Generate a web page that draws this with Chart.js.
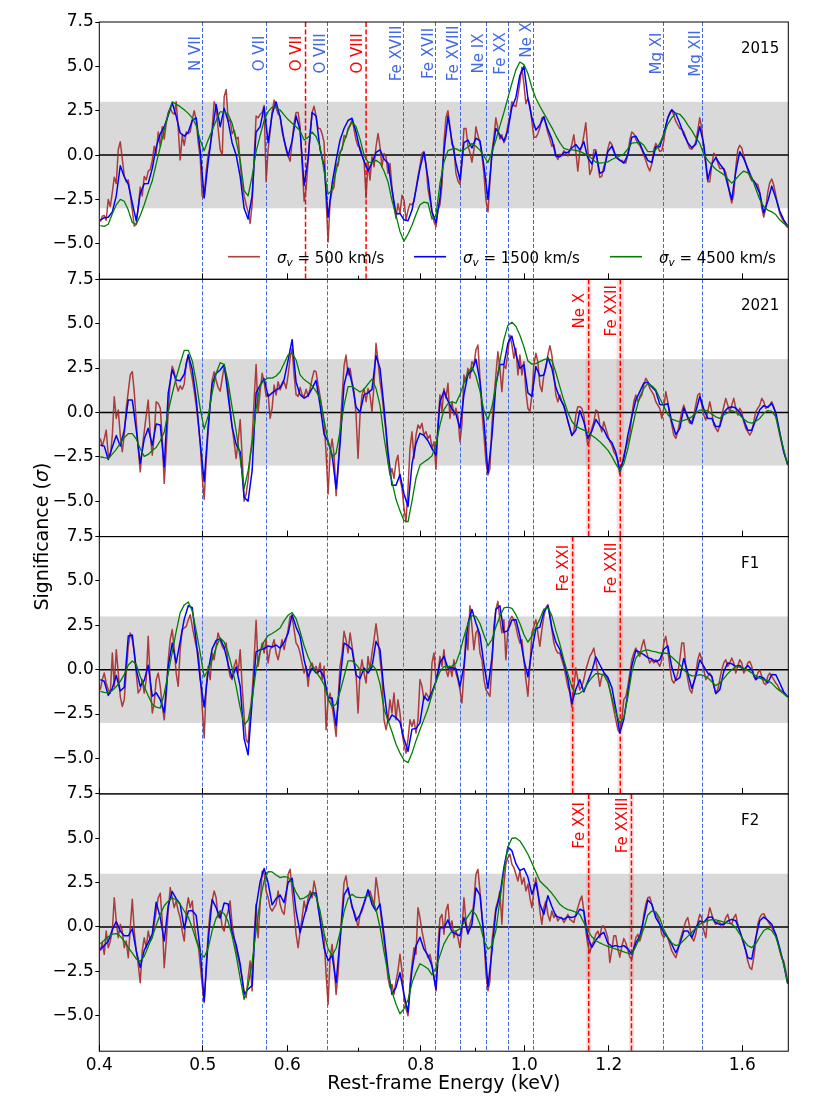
<!DOCTYPE html>
<html><head><meta charset="utf-8">
<script src="https://cdn.jsdelivr.net/npm/chart.js@4.4.1/dist/chart.umd.min.js"></script>
<style>
html,body{margin:0;padding:0;background:#fff;}
#wrap{position:relative;width:830px;height:1107px;overflow:hidden;}
#wrap canvas{position:absolute;left:0;top:0;}
</style></head><body>
<div id="wrap">
<canvas id="c0" width="830" height="1107"></canvas>
<canvas id="c1" width="830" height="1107"></canvas>
<canvas id="c2" width="830" height="1107"></canvas>
<canvas id="c3" width="830" height="1107"></canvas>
</div>
<script>
// ---------- DATA ----------
// Rest-frame energy grid (keV) for the sigma_v = 500 km/s curves; the 1500/4500 curves use every 2nd point.
const ENERGY = [
0.4009,0.4026,0.4043,0.4060,0.4078,0.4096,0.4114,0.4131,0.4149,0.4167,
0.4185,0.4203,0.4221,0.4239,0.4258,0.4276,0.4295,0.4313,0.4332,0.4350,
0.4369,0.4388,0.4407,0.4426,0.4445,0.4465,0.4484,0.4503,0.4522,0.4542,
0.4562,0.4582,0.4601,0.4621,0.4641,0.4661,0.4681,0.4701,0.4721,0.4742,
0.4762,0.4783,0.4804,0.4825,0.4846,0.4866,0.4888,0.4908,0.4929,0.4951,
0.4972,0.4993,0.5015,0.5037,0.5058,0.5080,0.5102,0.5124,0.5146,0.5168,
0.5191,0.5214,0.5236,0.5259,0.5281,0.5303,0.5326,0.5350,0.5373,0.5396,
0.5420,0.5443,0.5466,0.5490,0.5513,0.5537,0.5561,0.5585,0.5609,0.5633,
0.5658,0.5683,0.5707,0.5732,0.5756,0.5781,0.5806,0.5831,0.5856,0.5882,
0.5907,0.5932,0.5958,0.5984,0.6010,0.6036,0.6062,0.6088,0.6114,0.6141,
0.6167,0.6194,0.6221,0.6248,0.6275,0.6302,0.6329,0.6356,0.6383,0.6411,
0.6439,0.6467,0.6495,0.6523,0.6551,0.6579,0.6608,0.6636,0.6665,0.6694,
0.6722,0.6752,0.6780,0.6809,0.6839,0.6869,0.6898,0.6928,0.6958,0.6988,
0.7018,0.7048,0.7079,0.7110,0.7140,0.7170,0.7201,0.7233,0.7264,0.7296,
0.7327,0.7358,0.7390,0.7422,0.7454,0.7486,0.7518,0.7551,0.7584,0.7616,
0.7649,0.7683,0.7716,0.7749,0.7783,0.7816,0.7850,0.7884,0.7918,0.7952,
0.7986,0.8021,0.8055,0.8090,0.8125,0.8161,0.8196,0.8231,0.8267,0.8302,
0.8338,0.8374,0.8410,0.8446,0.8483,0.8519,0.8556,0.8593,0.8630,0.8667,
0.8705,0.8742,0.8780,0.8818,0.8856,0.8894,0.8933,0.8971,0.9010,0.9049,
0.9089,0.9128,0.9167,0.9207,0.9247,0.9286,0.9326,0.9366,0.9406,0.9447,
0.9488,0.9529,0.9570,0.9611,0.9653,0.9695,0.9737,0.9779,0.9821,0.9864,
0.9906,0.9949,0.9992,1.0035,1.0079,1.0122,1.0166,1.0209,1.0253,1.0297,
1.0342,1.0387,1.0432,1.0477,1.0522,1.0568,1.0613,1.0659,1.0705,1.0751,
1.0797,1.0844,1.0891,1.0938,1.0985,1.1033,1.1080,1.1128,1.1176,1.1224,
1.1272,1.1321,1.1370,1.1419,1.1469,1.1518,1.1568,1.1618,1.1668,1.1719,
1.1769,1.1820,1.1871,1.1922,1.1974,1.2026,1.2078,1.2130,1.2182,1.2235,
1.2287,1.2341,1.2394,1.2448,1.2501,1.2555,1.2609,1.2664,1.2719,1.2774,
1.2829,1.2884,1.2940,1.2996,1.3052,1.3108,1.3165,1.3222,1.3279,1.3337,
1.3394,1.3452,1.3510,1.3568,1.3627,1.3685,1.3745,1.3804,1.3864,1.3924,
1.3984,1.4045,1.4105,1.4166,1.4227,1.4289,1.4351,1.4412,1.4474,1.4537,
1.4599,1.4663,1.4726,1.4790,1.4854,1.4918,1.4983,1.5047,1.5112,1.5177,
1.5243,1.5309,1.5375,1.5441,1.5508,1.5575,1.5642,1.5710,1.5778,1.5846,
1.5914,1.5983,1.6052,1.6121,1.6191,1.6261,1.6331,1.6402,1.6473,1.6544,
1.6616,1.6688,1.6759,1.6831,1.6904,1.6978,1.7051,1.7124,1.7198,1.7272,
1.7347,1.7422,1.7497,1.7573,1.7649];

const PANELS = ['2015','2021','F1','F2'];
const SIGMA_V = ['500','1500','4500'];

const BROWN_2015 = [
-3.75,-3.45,-3.4,-3.67,-2.5,-2.9,-2.1,-1.25,-1.6,0.3,
0.75,-0.2,-1.15,-1.5,-1.4,-2.2,-3.1,-4.0,-3.9,-3.0,
-1.8,-2.3,-1.2,-1.4,-0.9,-0.8,-0.3,0.5,0.1,1.3,
0.47,1.6,0.9,1.8,2.4,2.65,2.4,2.3,3.0,1.5,
-0.28,1.1,0.55,1.3,1.2,1.3,2.0,2.5,2.0,0.7,
-0.1,-2.3,-2.4,-0.9,0.0,0.5,1.5,3.0,2.7,1.5,
0.3,0.0,3.29,3.7,1.9,2.0,1.2,1.4,0.9,1.0,
-0.5,-1.6,-2.3,-2.8,-3.2,-3.85,-2.8,-0.2,2.2,2.1,
2.3,2.4,2.8,-1.5,0.3,1.3,2.4,3.1,2.7,2.3,
2.2,1.3,0.85,0.28,-0.05,-0.35,0.8,1.8,2.4,2.4,
1.6,-0.5,-2.6,-1.9,-0.3,1.3,2.4,2.75,2.2,1.5,
1.5,1.2,0.7,-2.5,-4.9,-2.6,-2.0,-1.8,-0.5,-0.6,
0.2,0.3,1.1,1.0,1.5,1.7,2.0,1.45,0.85,0.5,
0.45,0.0,-0.3,-2.4,-0.4,-1.41,-0.09,-0.66,0.47,1.22,
0.47,-0.66,0.09,-0.09,-1.03,-0.47,-1.79,-2.91,-3.57,-2.73,
-3.29,-2.26,-2.54,-3.67,-3.10,-2.75,-2.8,-2.6,
-1.9,-1.2,-0.6,0.1,0.2,-0.5,-1.9,-2.54,-3.2,-3.75,
-4.04,-3.1,-2.8,-1.7,0.7,2.1,2.5,1.6,0.6,0.47,
-1.03,-1.45,-1.65,-0.5,1.5,1.5,0.55,0.15,-0.4,0.3,
1.6,1.1,0.7,0.0,-1.05,-2.54,-3.2,-1.5,0.2,1.0,
2.1,1.5,0.9,1.15,0.7,0.95,1.7,2.16,3.0,2.8,
2.73,3.35,4.1,4.95,4.0,2.9,3.2,2.8,1.9,1.0,
1.0,1.2,1.55,2.1,2.16,1.7,1.25,0.9,0.5,0.6,
0.0,-0.25,0.05,-0.05,0.25,0.1,-0.05,0.25,0.6,1.15,
0.2,-0.9,0.2,0.45,1.1,1.82,0.3,-1.1,-0.8,0.3,
0.3,-0.55,-1.25,-1.2,-0.65,-0.3,0.35,0.75,0.6,0.3,
-0.1,-0.2,-0.3,-0.3,-0.4,-0.45,0.1,0.85,1.3,1.2,
0.9,0.66,0.55,0.3,0.0,-0.3,-0.65,-0.9,-0.5,0.3,
0.66,0.45,0.2,0.25,0.8,1.6,2.1,2.4,2.54,2.25,
1.9,1.7,1.5,1.45,1.3,1.0,0.65,0.38,0.33,0.5,
0.75,1.4,2.1,1.5,0.4,-0.55,-1.5,-1.5,-0.55,0.1,
0.0,-0.45,-0.75,-0.75,-0.75,-1.0,-1.5,-2.2,-2.7,-2.2,
-0.7,0.3,0.55,0.4,-0.05,-0.45,-0.85,-1.2,-1.45,-1.45,
-1.6,-1.65,-2.1,-3.0,-3.5,-3.0,-2.1,-1.55,-1.35,-1.7,
-2.25,-2.8,-3.3,-3.55,-3.75,-3.95,-4.1];

const BLUE_2015 = [
-3.67,-3.53,-3.5,-3.2,-2.3,-0.6,-1.22,-1.65,-2.7,-3.7,
-2.16,-1.62,-1.6,-0.75,0.45,1.2,1.6,2.25,2.95,2.2,
1.25,1.07,1.3,1.95,2.1,0.28,-2.4,-0.4,1.3,2.85,
1.6,2.63,1.9,0.7,0.0,-1.22,-3.0,-3.6,-2.3,1.3,
1.6,2.7,0.7,2.3,3.0,2.15,0.85,-0.05,0.8,2.2,
1.4,-1.7,-0.2,2.4,2.2,0.3,-0.6,-3.5,-1.6,-0.3,
0.85,1.5,1.95,2.08,1.3,0.28,-0.35,-0.9,-0.43,0.15,
0.3,-0.22,-0.45,-1.95,-3.3,-3.29,-3.65,-3.7,-3.1,-1.95,
-0.75,0.15,-1.3,-3.2,-3.8,-2.4,0.2,2.2,0.8,-0.45,
-1.4,0.7,0.85,0.4,0.95,0.8,-0.6,-2.5,0.0,1.5,
1.13,0.8,1.4,2.7,3.25,4.5,5.0,3.2,2.1,1.41,
1.7,2.15,1.45,0.9,-0.05,-0.09,0.15,0.15,0.4,0.6,
0.3,0.75,-0.15,-0.5,0.2,-1.03,-0.9,0.2,0.5,-0.1,
-0.28,-0.45,0.0,1.0,1.07,0.66,0.12,-0.3,-0.43,0.47,
0.47,1.2,2.1,2.56,2.33,1.79,1.15,0.7,0.42,0.6,
1.6,0.6,-1.4,-0.5,-0.15,-0.5,-0.8,-1.7,-2.5,-0.95,
0.19,-0.2,-0.75,-1.3,-1.65,-2.16,-3.25,-2.6,-1.75,-2.4,
-3.15,-3.65,-4.0];

const GREEN_2015 = [
-3.98,-4.02,-3.9,-3.3,-2.8,-2.5,-2.6,-3.1,-3.8,-3.9,
-3.4,-2.8,-2.1,-1.45,-0.5,0.47,1.4,2.3,3.0,2.87,
2.73,2.55,2.35,2.1,1.67,0.85,0.25,0.85,1.4,1.95,
2.44,2.44,2.3,1.8,0.8,-0.28,-2.0,-2.3,-1.2,0.2,
1.1,1.95,2.45,2.7,2.67,2.54,2.27,2.0,1.8,1.6,
1.37,0.85,1.0,1.3,1.05,0.47,-0.9,-2.2,-1.95,-0.9,
0.09,0.75,1.4,1.86,1.6,0.9,0.0,-0.4,-0.42,-0.3,
-0.45,-0.9,-1.5,-2.55,-3.4,-4.3,-4.85,-4.45,-3.95,-3.35,
-2.8,-2.65,-2.7,-3.6,-3.4,-1.6,-0.4,0.25,0.33,0.36,
0.24,0.3,0.46,0.65,0.5,0.28,-0.05,-0.42,0.15,0.85,
1.65,2.4,3.22,4.05,4.8,5.25,5.1,4.6,3.8,3.2,
2.75,2.35,1.95,1.55,1.1,0.7,0.38,0.31,0.29,0.27,
0.21,0.1,0.0,-0.2,-0.4,-0.45,-0.42,-0.38,-0.25,-0.15,
-0.05,0.06,0.35,0.67,0.7,0.74,0.55,0.2,0.19,0.3,
0.68,1.15,1.75,2.1,2.37,2.3,2.05,1.7,1.38,1.0,
0.66,0.05,-0.3,-0.55,-0.8,-0.95,-1.1,-1.35,-1.58,-1.35,
-1.1,-0.9,-1.0,-1.25,-1.9,-2.5,-2.9,-3.1,-3.2,-3.35,
-3.65,-3.85,-4.0];

const BROWN_2021 = [
-1.47,-1.9,-1.5,-1.0,-2.41,-2.5,-1.28,0.88,-0.34,0.13,
-1.28,-2.22,-1.28,0.23,1.17,2.11,2.29,1.17,-0.53,-2.03,
-3.35,-2.03,-1.09,-0.15,0.70,-1.28,-2.41,-1.28,0.60,0.51,
0.23,-1.47,-4.00,-2.03,0.04,1.73,
2.6,2.3,1.6,1.2,1.5,1.3,1.6,2.8,3.23,2.5,
1.9,1.2,0.4,-0.6,-1.7,-3.6,-4.9,-2.7,-1.1,0.5,
1.8,2.29,1.8,1.4,1.2,1.9,2.6,2.0,1.3,0.2,
-0.8,-1.7,-2.6,-1.6,-0.4,-2.5,-5.0,-4.6,-3.8,-2.5,
-1.5,0.7,2.7,0.0,1.17,2.2,1.7,0.9,1.05,-0.34,
0.23,1.54,0.98,1.73,1.26,1.54,1.73,1.35,2.11,3.05,
3.6,2.1,1.0,0.9,1.4,1.0,0.9,1.3,0.9,1.35,
1.9,2.35,2.3,1.55,0.9,0.15,-0.6,-2.3,-4.6,-2.3,
-1.5,-2.4,-4.7,-3.3,-1.1,0.9,2.6,3.23,2.11,2.48,
1.73,1.17,-0.15,-2.59,-0.15,0.98,1.35,0.60,1.35,0.98,
0.04,1.54,3.89,2.86,1.73,0.98,-0.15,-1.09,-2.78,-3.53,
-3.16,-3.72,-2.78,-2.41,-3.72,-4.29,-5.41,-6.17,-4.29,-2.03,
-1.09,-2.59,-1.28,-0.71,-0.90,-0.62,-1.28,-1.09,-1.47,-1.28,
-2.03,-1.65,-3.2,-0.7,1.0,
0.04,1.35,0.79,1.64,-0.34,0.60,-0.15,0.23,-0.24,-1.65,
-0.71,2.11,1.73,2.48,1.92,2.86,2.67,3.52,3.80,1.92,
0.04,-1.28,-2.78,-3.53,-3.16,-0.71,0.79,2.11,3.42,2.48,
1.17,2.67,2.48,3.42,4.36,3.80,3.05,3.61,2.11,3.23,
2.11,2.86,1.17,0.23,0.04,0.98,2.67,3.33,2.86,1.54,
1.17,2.11,2.48,3.23,3.76,3.23,2.11,0.98,0.60,0.98,
0.60,0.41,0.04,-0.53,-0.90,-1.28,-1.09,-0.15,0.32,0.32,
0.23,-0.15,-1.09,-1.84,-1.47,-0.90,-0.53,0.13,0.04,-0.71,
-1.09,-0.53,-0.90,-1.28,-1.65,-1.84,-2.22,-2.41,-2.69,-3.53,
-2.97,-2.41,-2.03,-1.65,-1.28,-0.15,0.60,0.98,0.60,0.79,
0.98,1.54,1.92,1.73,1.35,1.17,0.98,0.60,0.41,0.23,
-0.34,0.23,1.17,0.60,-0.15,-0.71,-1.28,-1.47,-1.09,-0.53,
0.04,0.41,0.04,-0.34,-0.62,-0.53,-0.15,0.41,0.98,1.07,
0.41,-0.15,-0.43,0.04,0.60,0.04,-0.71,-0.90,-1.09,-0.71,
-0.15,0.32,0.79,0.41,0.04,0.41,0.79,0.23,-0.15,0.23,
0.04,-0.53,-0.90,-1.09,-1.28,-1.09,-0.53,0.04,0.23,0.41,
0.79,0.60,0.23,0.32,0.41,0.60,0.32,-0.15,-0.71,-1.28,
-1.75,-2.22,-2.59,-2.93];

const BLUE_2021 = [
-1.84,-1.9,-2.65,-1.95,-1.3,-1.9,-1.0,0.7,0.7,-1.0,
-2.88,-1.5,-0.9,-1.85,-0.65,-0.71,-3.06,1.1,2.4,1.82,
1.78,2.15,3.25,2.4,0.8,-1.7,-3.9,-0.8,1.6,2.2,
2.39,2.7,0.9,-0.8,-1.8,-2.22,-4.8,-5.0,-3.3,1.1,
1.54,1.9,0.9,1.1,1.26,1.4,1.85,2.95,4.1,1.7,
1.0,0.8,0.95,1.35,1.8,0.4,-1.25,-1.65,-2.4,-4.3,
-1.8,1.54,2.5,1.65,0.3,0.0,1.0,1.1,1.3,3.2,
2.48,0.3,-2.2,-4.1,-4.1,-3.5,-4.6,-5.3,-2.9,-1.75,
-1.18,-1.3,-1.6,-2.05,-2.41,0.6,1.2,0.65,0.2,-0.1,
-0.9,1.0,2.15,2.35,3.0,1.73,-0.5,-3.4,-1.4,1.54,
2.7,2.7,3.9,4.3,3.3,2.48,2.7,1.1,0.9,2.58,
2.05,2.11,3.1,2.48,1.4,0.8,0.35,-0.45,-1.3,-1.0,
0.1,-0.53,-1.45,-1.05,-0.4,-0.75,-0.97,-1.45,-1.7,-2.25,
-3.3,-2.6,-1.3,-0.25,0.7,1.17,1.65,1.7,1.43,1.2,
0.45,0.41,0.5,-0.53,-1.25,-0.9,0.25,-0.25,-0.65,0.05,
0.88,0.2,-0.34,-0.34,-0.8,-0.8,0.0,0.25,0.32,0.25,
0.0,-0.43,-1.0,-1.0,-0.43,0.15,0.38,0.28,0.51,0.0,
-1.1,-2.22,-2.95];

const GREEN_2021 = [
-2.5,-2.55,-2.59,-2.35,-2.08,-1.75,-1.42,-1.2,-1.2,-1.5,
-2.05,-2.48,-2.37,-2.14,-1.98,-1.6,-1.1,0.05,1.05,1.95,
2.75,3.5,3.5,2.9,1.75,0.23,-0.94,-0.2,1.1,2.2,
2.8,2.7,1.7,0.3,-1.05,-2.6,-4.29,-3.3,-1.8,0.2,
1.54,1.8,1.95,1.93,2.05,2.29,2.75,3.25,3.36,2.95,
2.11,1.85,1.68,1.5,1.2,0.79,-0.45,-1.6,-2.55,-2.3,
-1.05,0.4,1.45,1.45,1.3,1.15,1.3,1.6,1.87,1.35,
0.4,-1.4,-2.8,-3.9,-4.9,-5.55,-6.1,-6.17,-5.0,-3.7,
-2.97,-2.8,-2.65,-2.45,-1.8,-0.7,0.15,0.5,0.6,0.52,
1.0,1.65,2.25,2.55,2.05,1.2,0.1,-0.4,0.3,1.5,
2.9,4.1,4.9,5.08,4.85,4.35,3.7,2.9,2.72,2.75,
2.86,2.97,3.03,2.93,2.25,1.45,0.68,0.0,-0.5,-0.78,
-0.9,-1.0,-1.12,-1.3,-1.46,-1.65,-1.88,-2.13,-2.48,-2.9,
-3.25,-2.9,-2.05,-1.0,0.05,0.9,1.35,1.62,1.5,1.28,
0.8,0.35,-0.12,-0.38,-0.47,-0.53,-0.45,-0.38,-0.25,-0.05,
0.13,0.13,0.08,-0.1,-0.25,-0.34,-0.15,-0.02,0.1,0.02,
-0.15,-0.38,-0.55,-0.6,-0.5,-0.34,-0.05,0.1,0.06,-0.25,
-1.2,-2.1,-2.97];

const BROWN_F1 = [
-1.13,-0.56,-0.19,-0.75,-1.13,-1.32,0.94,-0.94,1.13,-0.19,
-1.50,-2.07,
-1.69,-0.19,1.32,2.07,1.69,0.94,-0.19,-1.32,-1.13,-0.56,
-1.32,-0.56,1.88,-0.75,-2.44,-1.88,-0.56,-0.19,-0.94,-2.07,
-2.82,-1.50,0.56,1.69,2.26,1.2,-0.19,-0.94,1.13,2.26,
2.35,2.44,2.82,3.10,2.44,1.88,1.32,0.94,
-0.19,-2.07,-3.85,-0.94,0.19,-0.56,0.94,0.56,1.32,2.07,
1.69,1.32,1.13,1.50,0.19,-0.38,-0.56,0.19,0.56,-0.19,
1.13,-0.94,-2.63,-3.95,-4.14,-2.44,-1.32,0.56,2.78,0.19,
0.94,1.50,0.94,1.69,0.38,1.13,1.32,1.69,0.94,0.56,
1.13,1.69,1.13,1.69,2.26,3.01,3.01,2.26,1.50,1.32,
0.94,0.38,-0.19,0.19,-0.94,0.19,0.38,0.00,0.19,-0.19,
0.38,-0.56,0.19,-3.38,-1.7,-1.32,-2.07,-2.82,-3.76,-1.69,
0.19,0.94,2.16,1.69,0.94,2.07,1.32,0.56,-0.19,-2.44,
-0.19,0.56,-0.19,-0.75,0.75,0.00,0.94,1.69,2.59,1.69,
0.56,-0.38,-2.82,-3.38,-2.82,-1.69,-2.44,-1.32,-2.82,-1.69,
-2.44,-3.57,-4.2,-4.7,-3.9,-2.82,-3.20,-2.82,-3.57,-2.82,
-0.56,-0.94,-1.69,-1.32,-1.50,-1.69,0.38,0.94,-0.56,-0.19,
0.75,
0.19,1.13,0.00,-0.38,0.19,-0.38,0.56,-0.19,-0.56,-1.13,
-1.88,-0.19,2.07,1.13,3.6,2.44,1.13,2.07,2.26,0.94,
0.56,-0.56,-1.13,-1.32,-1.50,0.19,2.44,3.38,3.85,2.82,
2.07,2.82,0.56,2.26,2.82,3.01,2.82,2.44,1.88,1.50,
1.69,0.56,-0.56,-1.50,0.19,2.07,2.44,2.82,2.07,1.32,
2.26,3.01,3.48,3.67,3.20,2.26,1.50,1.13,0.94,0.94,
0.56,0.19,-0.38,-0.94,-1.32,-2.1,-1.0,0.09,-0.56,-1.13,
-0.94,-0.56,0.00,0.38,0.75,0.94,1.22,0.56,-0.19,-0.94,
-0.38,-0.19,-0.38,-0.56,-1.13,-1.69,-2.26,-2.82,-3.38,-3.57,
-2.82,-1.69,-1.50,-0.94,-0.19,0.56,0.94,1.22,0.94,0.75,
1.32,1.69,1.13,0.75,0.38,0.56,0.38,0.56,0.38,0.19,
0.56,1.50,1.88,1.13,0.19,-0.56,-0.75,-0.56,-0.19,0.56,
1.50,1.50,0.19,-0.56,-1.13,-1.32,-0.75,-0.19,0.56,0.94,
0.56,0.00,-0.56,-0.38,-0.19,-0.38,-0.94,-1.32,-1.13,-0.56,
0.00,0.38,0.56,0.19,0.38,0.66,0.38,-0.19,0.19,0.56,
0.38,-0.19,0.00,0.38,0.47,0.19,-0.38,-0.56,-0.19,0.00,
-0.38,-0.75,-0.85,-0.38,-0.19,-0.38,-0.56,-0.75,-0.9,-1.13,
-1.2,-1.32,-1.45,-1.54];

const BLUE_F1 = [
-0.56,-0.65,-1.45,-1.05,-0.33,-1.2,-1.0,1.9,1.95,0.0,
-0.94,-0.6,0.25,-1.5,-1.3,-1.69,-2.4,0.2,1.5,0.38,
1.6,2.85,3.6,3.5,1.6,-0.56,-2.1,-0.1,1.17,1.65,
1.75,1.25,0.3,-0.45,0.15,-0.94,-3.9,-4.8,-1.8,1.0,
1.13,1.18,1.33,1.28,1.39,1.22,1.55,2.05,3.1,2.4,
1.88,0.55,-0.4,0.1,-0.19,-0.05,-0.4,-1.6,-1.6,-3.16,
-0.6,1.5,1.36,1.13,-0.3,-0.5,0.1,-0.19,0.15,1.6,
1.13,-1.2,-2.95,-2.55,-2.7,-2.95,-3.9,-4.6,-3.35,-3.32,
-3.0,-1.5,-1.75,-1.25,-0.65,0.4,0.75,0.1,0.11,0.05,
-0.94,0.19,2.6,3.4,2.63,1.95,0.3,-1.05,0.65,3.4,
3.6,2.1,2.2,2.8,2.82,1.9,0.56,-0.4,1.1,2.3,
2.4,3.25,3.6,2.35,1.55,1.15,0.4,-0.5,-1.9,-1.1,
-0.56,-1.25,-0.65,-0.1,0.72,0.28,-0.15,-0.43,-1.0,-2.2,
-3.55,-2.8,-1.32,0.2,1.09,0.98,0.85,0.68,0.6,0.45,
0.56,1.15,1.35,0.15,-0.6,-0.45,0.63,-0.19,-1.05,-0.38,
0.55,0.19,-0.19,-0.38,-1.35,-1.13,-0.1,0.38,0.33,0.19,
0.23,0.0,0.24,0.0,-0.56,-0.38,-0.48,-0.75,-0.27,-0.28,
-0.75,-1.25,-1.54];

const GREEN_F1 = [
-1.22,-1.28,-1.3,-1.17,-0.95,-0.66,-0.28,0.26,0.49,0.3,
-0.38,-0.95,-1.47,-1.95,-2.11,-2.16,-1.35,-0.2,0.98,2.15,
3.2,3.65,3.82,3.3,2.2,0.95,-0.41,0.0,0.56,1.26,
1.79,1.56,0.95,0.1,-0.95,-2.15,-3.12,-2.85,-1.7,0.0,
1.0,1.6,1.92,2.04,2.18,2.35,2.75,3.07,3.22,2.88,
2.15,1.35,0.72,0.2,-0.13,-0.45,-0.85,-1.63,-2.1,-1.95,
-1.25,-0.4,0.5,0.5,0.3,0.0,-0.06,0.0,0.3,0.0,
-0.8,-2.2,-2.85,-3.5,-4.2,-4.7,-5.1,-5.24,-4.7,-4.0,
-3.38,-2.8,-2.2,-1.4,-0.68,-0.1,0.17,0.18,0.2,0.36,
1.0,1.85,2.6,3.05,3.0,2.6,1.95,1.35,1.7,2.4,
3.0,3.48,3.53,3.45,3.1,2.6,1.98,1.55,1.9,2.4,
2.85,3.42,3.5,3.05,2.2,1.45,0.55,-0.22,-0.97,-1.38,
-1.33,-1.15,-0.75,-0.45,-0.22,-0.23,-0.3,-0.72,-1.55,-2.4,
-3.0,-2.7,-1.55,-0.15,0.65,0.95,1.08,1.12,1.05,1.0,
0.94,0.94,0.9,0.72,0.5,0.28,0.0,-0.23,-0.35,-0.34,
-0.28,-0.34,-0.45,-0.68,-0.9,-0.75,-0.5,-0.22,0.0,0.17,
0.15,0.07,-0.04,-0.18,-0.35,-0.48,-0.57,-0.63,-0.76,-1.0,
-1.18,-1.36,-1.54];

const BROWN_F2 = [
-1.35,-0.88,-1.54,-0.23,-1.17,-0.79,-0.23,1.65,0.34,-0.60,
0.15,-0.23,-1.17,-0.79,-1.73,-0.04,1.56,-0.23,-1.35,-2.11,
-3.14,-1.35,-0.60,-1.17,-0.23,-0.79,-0.60,0.15,0.90,1.65,
1.9,0.3,-2.3,-0.8,0.9,2.22,1.65,1.09,1.47,0.90,
0.53,-0.23,-0.79,0.90,1.65,1.09,1.47,0.15,-0.60,-0.98,
-2.11,-3.23,-4.27,-2.11,-0.41,0.90,1.47,2.03,1.65,0.53,
0.90,-0.04,-0.23,0.53,0.90,1.47,0.15,-0.60,-1.35,-1.73,
-2.29,-2.86,-3.61,-3.98,-2.86,-1.92,-3.61,-0.60,1.3,-0.6,
1.28,3.16,3.0,2.03,1.65,1.09,0.90,1.09,1.28,2.03,
1.28,0.90,0.71,1.65,2.97,3.25,2.03,0.90,-0.41,-1.17,
-0.23,0.53,1.47,0.90,1.65,2.03,1.65,2.59,2.03,1.28,
0.53,-0.23,-0.60,-2.67,-4.36,-1.73,-0.98,-2.11,-3.8,-2.6,
-0.8,1.0,2.5,2.88,2.03,1.65,1.09,0.90,0.53,-0.04,
0.71,0.90,1.28,1.65,1.84,2.03,1.65,1.09,2.78,2.03,
1.09,0.15,-0.79,-1.73,-2.86,-3.42,-3.23,-3.80,-3.04,-2.48,
-1.54,-2.48,-4.0,-4.6,-5.0,-3.2,-2.11,-1.17,-1.54,1.09,
0.53,-0.23,-0.79,-1.35,-1.73,-1.54,-2.11,-2.86,-3.61,-1.0,
0.5,
0.71,-0.41,0.90,1.28,-0.04,0.34,-0.60,-0.23,-0.60,-1.17,
-0.23,1.65,0.34,-0.41,0.15,0.53,1.47,2.97,3.25,2.03,
0.71,-0.60,-2.6,-3.6,-3.05,-0.79,0.15,1.09,1.47,2.03,
0.15,2.41,3.53,3.91,4.10,3.53,3.34,2.97,2.59,3.16,
2.41,2.78,2.03,2.41,1.65,1.09,2.03,2.78,2.03,0.90,
0.15,1.09,1.47,0.71,0.34,0.90,0.53,0.71,0.34,0.53,
0.53,0.25,0.43,0.71,0.43,0.34,0.25,0.71,1.09,1.47,
1.75,0.90,-0.23,-0.98,-1.45,-1.0,-0.79,-0.41,-0.23,-0.60,
0.04,0.06,-0.23,-0.6,-2.0,-1.3,-0.5,-0.5,-1.2,-1.7,
-1.1,-0.65,-0.9,-1.3,-1.7,-1.82,-1.17,-0.60,-0.41,-0.79,
-0.41,0.71,1.28,1.65,1.69,1.28,0.90,0.71,0.53,0.15,
-0.41,-0.60,-0.41,-0.60,-0.98,-1.35,-1.54,-1.73,-1.35,-0.79,
-0.41,-0.04,0.34,0.53,-0.04,-0.60,-0.79,-0.41,0.25,0.71,
0.53,-0.23,-0.60,0.53,1.09,0.71,0.34,0.15,0.34,0.25,
-0.04,0.15,0.53,0.71,0.25,0.15,0.53,0.71,0.15,-0.23,
-0.60,-0.98,-1.35,-1.92,-2.29,-2.39,-1.73,-0.79,0.15,0.53,
0.71,0.75,0.53,0.34,0.15,-0.04,-0.23,-0.41,-0.79,-1.35,
-1.73,-1.92,-2.48,-3.18];

const BLUE_F2 = [
-1.26,-1.05,-0.8,-0.15,0.3,-0.23,-0.5,-0.5,-0.1,-1.35,
-2.29,-1.3,-0.88,-0.4,1.4,0.53,-0.79,1.2,2.0,1.6,
1.28,-0.1,0.9,0.93,0.65,-1.3,-4.17,-0.8,1.55,1.09,
0.5,1.35,1.3,-0.3,-1.0,-2.1,-3.8,-3.5,-3.3,1.1,
2.55,3.3,2.5,1.25,1.6,1.8,1.37,2.5,2.75,0.9,
-0.32,0.6,1.38,1.93,1.9,0.34,-1.2,-1.9,-1.6,-3.14,
-0.7,1.8,2.2,1.2,0.35,0.7,1.37,2.1,1.28,0.9,
1.3,-0.41,-2.4,-3.8,-3.4,-2.58,-3.8,-4.8,-2.4,-1.05,
-0.58,-1.25,-1.6,-2.2,-3.52,-0.04,-0.05,0.4,-0.28,-0.39,
-0.5,0.53,-0.35,0.15,2.2,1.8,-0.6,-3.35,-1.4,0.9,
1.8,3.35,4.5,4.3,3.57,3.18,3.3,2.8,1.85,2.5,
1.3,0.71,1.76,1.15,0.62,0.53,0.43,0.58,0.53,0.62,
1.0,0.9,-0.6,-1.15,-0.75,-0.46,-0.3,-0.9,-1.1,-1.05,
-1.12,-1.05,-1.22,-1.55,-0.9,-0.5,0.45,1.52,1.28,0.52,
0.15,-0.32,-0.6,-0.98,-1.45,-0.98,-0.23,-0.22,-0.6,-0.05,
0.34,0.25,0.53,0.57,0.24,0.15,0.15,0.34,0.43,0.35,
-0.23,-0.9,-1.73,-1.8,-0.6,0.35,0.56,0.38,0.15,-0.42,
-1.2,-2.11,-3.2];

const GREEN_F2 = [
-0.94,-0.75,-0.55,-0.4,-0.37,-0.52,-0.8,-1.15,-1.47,-1.8,
-1.93,-1.65,-1.1,-0.55,0.1,0.7,1.2,1.45,1.65,1.52,
1.28,0.9,0.55,-0.05,-0.75,-1.45,-1.7,-1.2,-0.2,0.5,
0.9,0.75,0.3,-0.5,-1.6,-2.9,-4.08,-3.3,-2.0,-0.2,
1.5,2.6,3.12,3.1,2.93,2.78,2.84,2.8,2.5,1.95,
1.57,1.63,1.78,1.93,1.7,0.9,-0.35,-1.25,-1.6,-1.2,
-0.3,0.85,1.6,1.85,1.68,1.65,1.67,1.78,1.6,1.0,
-0.04,-1.4,-2.6,-3.65,-4.35,-4.89,-4.6,-4.1,-3.15,-2.55,
-2.07,-2.2,-2.35,-2.7,-2.3,-1.6,-0.95,-0.55,-0.23,-0.23,
-0.1,0.25,0.6,0.95,0.7,0.15,-0.75,-1.25,-1.05,-0.2,
1.5,3.15,4.5,5.0,5.02,4.85,4.5,4.1,3.6,3.1,
2.59,2.37,2.15,1.9,1.6,1.28,1.1,0.98,0.92,0.83,
0.71,0.25,-0.2,-0.55,-0.76,-0.9,-1.0,-1.09,-1.17,-1.25,
-1.32,-1.4,-1.48,-1.52,-1.1,-0.6,-0.1,0.68,0.9,0.85,
0.5,-0.15,-0.57,-0.9,-1.05,-0.98,-0.75,-0.53,-0.3,-0.08,
0.15,0.27,0.36,0.42,0.4,0.34,0.28,0.22,0.17,-0.05,
-0.41,-0.75,-1.05,-1.16,-0.95,-0.55,-0.2,-0.08,-0.2,-0.55,
-1.3,-2.1,-3.2];

// Ion line energies (keV) marked in every panel
const ION_ENERGY = [0.500,0.574,0.654,0.771,0.826,0.872,0.921,0.966,1.021,1.350,1.470];
const ION_LABEL  = ['N VII','O VII','O VIII','Fe XVIII','Fe XVII','Fe XVIII','Ne IX','Fe XX','Ne X','Mg XI','Mg XII'];
// Shifted (red) lines per panel: energy, label, half-width of shaded range (keV)
const RED_ENERGY = [[0.624,0.711],[1.149,1.230],[1.110,1.230],[1.149,1.260]];
const RED_LABEL  = [['O VII','O VIII'],['Ne X','Fe XXII'],['Fe XXI','Fe XXII'],['Fe XXI','Fe XXIII']];
const RED_HALFW  = [[0,0],[0.007,0.010],[0.006,0.008],[0.006,0.007]];

const X_TICKS = [0.4,0.5,0.6,0.8,1.0,1.2,1.6];
const X_MINOR = [0.7,0.9];
const Y_TICKS = [-5,-2.5,0,2.5,5,7.5];

// ---------- DRAWING ----------
const BROWN = [BROWN_2015,BROWN_2021,BROWN_F1,BROWN_F2];
const BLUE  = [BLUE_2015,BLUE_2021,BLUE_F1,BLUE_F2];
const GREEN = [GREEN_2015,GREEN_2021,GREEN_F1,GREEN_F2];
const COLORS = ['rgba(165,42,42,0.9)','#0000ff','#008000'];
const FONT = 'DejaVu Sans';
Chart.defaults.font.family = FONT;

const W = 830, H = 1107;
const LEFT = 99.3, RIGHT = 788.3, TOP = 22, PH = 257.3;

function rotText(ctx, text, x, y, font, color){
  ctx.save(); ctx.translate(x, y); ctx.rotate(-Math.PI/2);
  ctx.font = font; ctx.fillStyle = color; ctx.textAlign = 'center'; ctx.textBaseline = 'alphabetic';
  ctx.fillText(text, 0, 0); ctx.restore();
}
const crisp = v => Math.round(v - 0.5) + 0.5;

function panelPlugin(i){
  return {
    id: 'panel' + i,
    beforeDatasetsDraw(chart){
      const {ctx, chartArea: a, scales: {x, y}} = chart;
      ctx.save();
      const y3 = y.getPixelForValue(3), ym3 = y.getPixelForValue(-3);
      ctx.fillStyle = '#d9d9d9';
      ctx.fillRect(a.left, y3, a.right - a.left, ym3 - y3);
      RED_ENERGY[i].forEach((e, k) => {
        const w = RED_HALFW[i][k];
        if (w > 0) {
          const x1 = x.getPixelForValue(e - w), x2 = x.getPixelForValue(e + w);
          ctx.fillStyle = 'rgba(255,0,0,0.13)';
          ctx.fillRect(x1, a.top, x2 - x1, a.bottom - a.top);
        }
      });
      const y0 = y.getPixelForValue(0);
      ctx.strokeStyle = '#000'; ctx.lineWidth = 1.5;
      ctx.beginPath(); ctx.moveTo(a.left, y0); ctx.lineTo(a.right, y0); ctx.stroke();
      ctx.setLineDash([4, 2]); ctx.lineWidth = 1; ctx.strokeStyle = '#4169e1';
      ION_ENERGY.forEach(e => {
        const px = crisp(x.getPixelForValue(e));
        ctx.beginPath(); ctx.moveTo(px, a.top); ctx.lineTo(px, a.bottom); ctx.stroke();
      });
      ctx.setLineDash([5, 2.4]); ctx.lineWidth = 1.5; ctx.strokeStyle = '#ff0000';
      RED_ENERGY[i].forEach(e => {
        const px = x.getPixelForValue(e);
        ctx.beginPath(); ctx.moveTo(px, a.top); ctx.lineTo(px, a.bottom); ctx.stroke();
      });
      ctx.restore();
    },
    afterDraw(chart){
      const {ctx, chartArea: a, scales: {x, y}} = chart;
      ctx.save();
      // frame
      ctx.strokeStyle = '#000'; ctx.lineWidth = 1;
      ctx.strokeRect(a.left, a.top, a.right - a.left, a.bottom - a.top);
      // inward x ticks
      ctx.beginPath();
      X_TICKS.forEach(v => { const px = crisp(x.getPixelForValue(v)); ctx.moveTo(px, a.bottom); ctx.lineTo(px, a.bottom - 6); });
      X_MINOR.forEach(v => { const px = crisp(x.getPixelForValue(v)); ctx.moveTo(px, a.bottom); ctx.lineTo(px, a.bottom - 3.5); });
      ctx.stroke();
      // line labels
      const lf = '15px "' + FONT + '"';
      if (i === 0) {
        ION_ENERGY.forEach((e, k) => {
          const px = x.getPixelForValue(e);
          const cy = ION_LABEL[k] === 'Ne X' ? a.top + 18 : a.top + 31.5;
          rotText(ctx, ION_LABEL[k], px - 2.8, cy, lf, '#4169e1');
        });
      }
      RED_ENERGY[i].forEach((e, k) => {
        const px = x.getPixelForValue(e);
        rotText(ctx, RED_LABEL[i][k], px - 4.5, a.top + 31.5, lf, '#ff0000');
      });
      // panel name
      ctx.font = '15px "' + FONT + '"'; ctx.fillStyle = '#000';
      ctx.textAlign = 'left'; ctx.textBaseline = 'alphabetic';
      ctx.fillText(PANELS[i], 741, a.top + 31);
      if (i === 0) {
        // legend
        const ly = a.bottom - 22.6, base = ly + 5.8;
        const hx = [228, 414, 610];
        SIGMA_V.forEach((s, k) => {
          ctx.strokeStyle = COLORS[k]; ctx.lineWidth = 1.6; ctx.setLineDash([]);
          ctx.beginPath(); ctx.moveTo(hx[k], ly); ctx.lineTo(hx[k] + 32, ly); ctx.stroke();
          let tx = hx[k] + 49;
          ctx.fillStyle = '#000'; ctx.textAlign = 'left'; ctx.textBaseline = 'alphabetic';
          ctx.font = 'italic 15px "' + FONT + '"';
          ctx.fillText('\u03c3', tx, base); tx += ctx.measureText('\u03c3').width;
          ctx.font = 'italic 10.5px "' + FONT + '"';
          ctx.fillText('v', tx, base + 3.2); tx += ctx.measureText('v').width;
          ctx.font = '15px "' + FONT + '"';
          ctx.fillText(' = ' + s + ' km/s', tx, base);
        });
        // y-axis title
        const t1 = 'Significance (', t2 = '\u03c3', t3 = ')';
        const f1 = '19px "' + FONT + '"', f2 = 'italic 19px "' + FONT + '"';
        ctx.font = f1; const w1 = ctx.measureText(t1).width, w3 = ctx.measureText(t3).width;
        ctx.font = f2; const w2 = ctx.measureText(t2).width;
        const tot = w1 + w2 + w3;
        ctx.save(); ctx.translate(48, (TOP + TOP + 4 * PH) / 2); ctx.rotate(-Math.PI / 2);
        ctx.fillStyle = '#000'; ctx.textAlign = 'left'; ctx.textBaseline = 'alphabetic';
        let sx = -tot / 2;
        ctx.font = f1; ctx.fillText(t1, sx, 0); sx += w1;
        ctx.font = f2; ctx.fillText(t2, sx, 0); sx += w2;
        ctx.font = f1; ctx.fillText(t3, sx, 0);
        ctx.restore();
      }
      ctx.restore();
    }
  };
}

function makeChart(i){
  const isLast = i === 3;
  const pt = TOP + PH * i, pb = TOP + PH * (i + 1);
  const br = BROWN[i], bl = BLUE[i], gr = GREEN[i];
  const n1 = Math.min(br.length, ENERGY.length);
  const brownData = [];
  for (let k = 0; k < n1; k++) brownData.push({x: ENERGY[k], y: br[k]});
  const blueData = [], greenData = [];
  for (let m = 0; m < bl.length && 2 * m < ENERGY.length; m++) blueData.push({x: ENERGY[2 * m], y: bl[m]});
  for (let m = 0; m < gr.length && 2 * m < ENERGY.length; m++) greenData.push({x: ENERGY[2 * m], y: gr[m]});
  const ds = (label, data, color, width, order) => ({label, data, borderColor: color, borderWidth: width,
    pointRadius: 0, tension: 0, fill: false, order, borderJoinStyle: 'round'});
  new Chart(document.getElementById('c' + i), {
    type: 'line',
    data: {datasets: [
      ds('\u03c3v = 500 km/s', brownData, COLORS[0], 1.5, 3),
      ds('\u03c3v = 1500 km/s', blueData, COLORS[1], 1.5, 2),
      ds('\u03c3v = 4500 km/s', greenData, COLORS[2], 1.3, 1)
    ]},
    options: {
      responsive: false, animation: false, events: [],
      layout: {padding: {left: 0, right: W - RIGHT, top: pt, bottom: isLast ? 7 : H - pb}},
      plugins: {legend: {display: false}, tooltip: {enabled: false}, title: {display: false}},
      scales: {
        x: {
          type: 'logarithmic', min: 0.4, max: 1.767, display: isLast,
          afterBuildTicks: s => { s.ticks = X_TICKS.map(v => ({value: v})); },
          afterFit: s => { if (isLast) s.height = 1100 - pb; },
          grid: {display: false, drawTicks: false}, border: {display: false},
          ticks: {autoSkip: false, maxRotation: 0, minRotation: 0, padding: 4, color: '#000',
            font: {family: FONT, size: 17}, callback: v => Number(v).toFixed(1)},
          title: {display: true, text: 'Rest-frame Energy (keV)', color: '#000',
            font: {family: FONT, size: 19}, padding: {top: 0, bottom: 4.6}}
        },
        y: {
          type: 'linear', min: -7, max: 7.5,
          afterBuildTicks: s => { s.ticks = Y_TICKS.map(v => ({value: v})); },
          afterFit: s => { s.width = LEFT; },
          grid: {display: true, drawOnChartArea: false, drawTicks: true, tickLength: 4, color: '#000', lineWidth: 1},
          border: {display: false},
          ticks: {padding: 1.5, color: '#000', font: {family: FONT, size: 17},
            callback: v => (v < 0 ? '\u2212' : '') + Math.abs(v).toFixed(1)}
        }
      }
    },
    plugins: [panelPlugin(i)]
  });
}
for (let i = 0; i < 4; i++) makeChart(i);
</script>
</body></html>
